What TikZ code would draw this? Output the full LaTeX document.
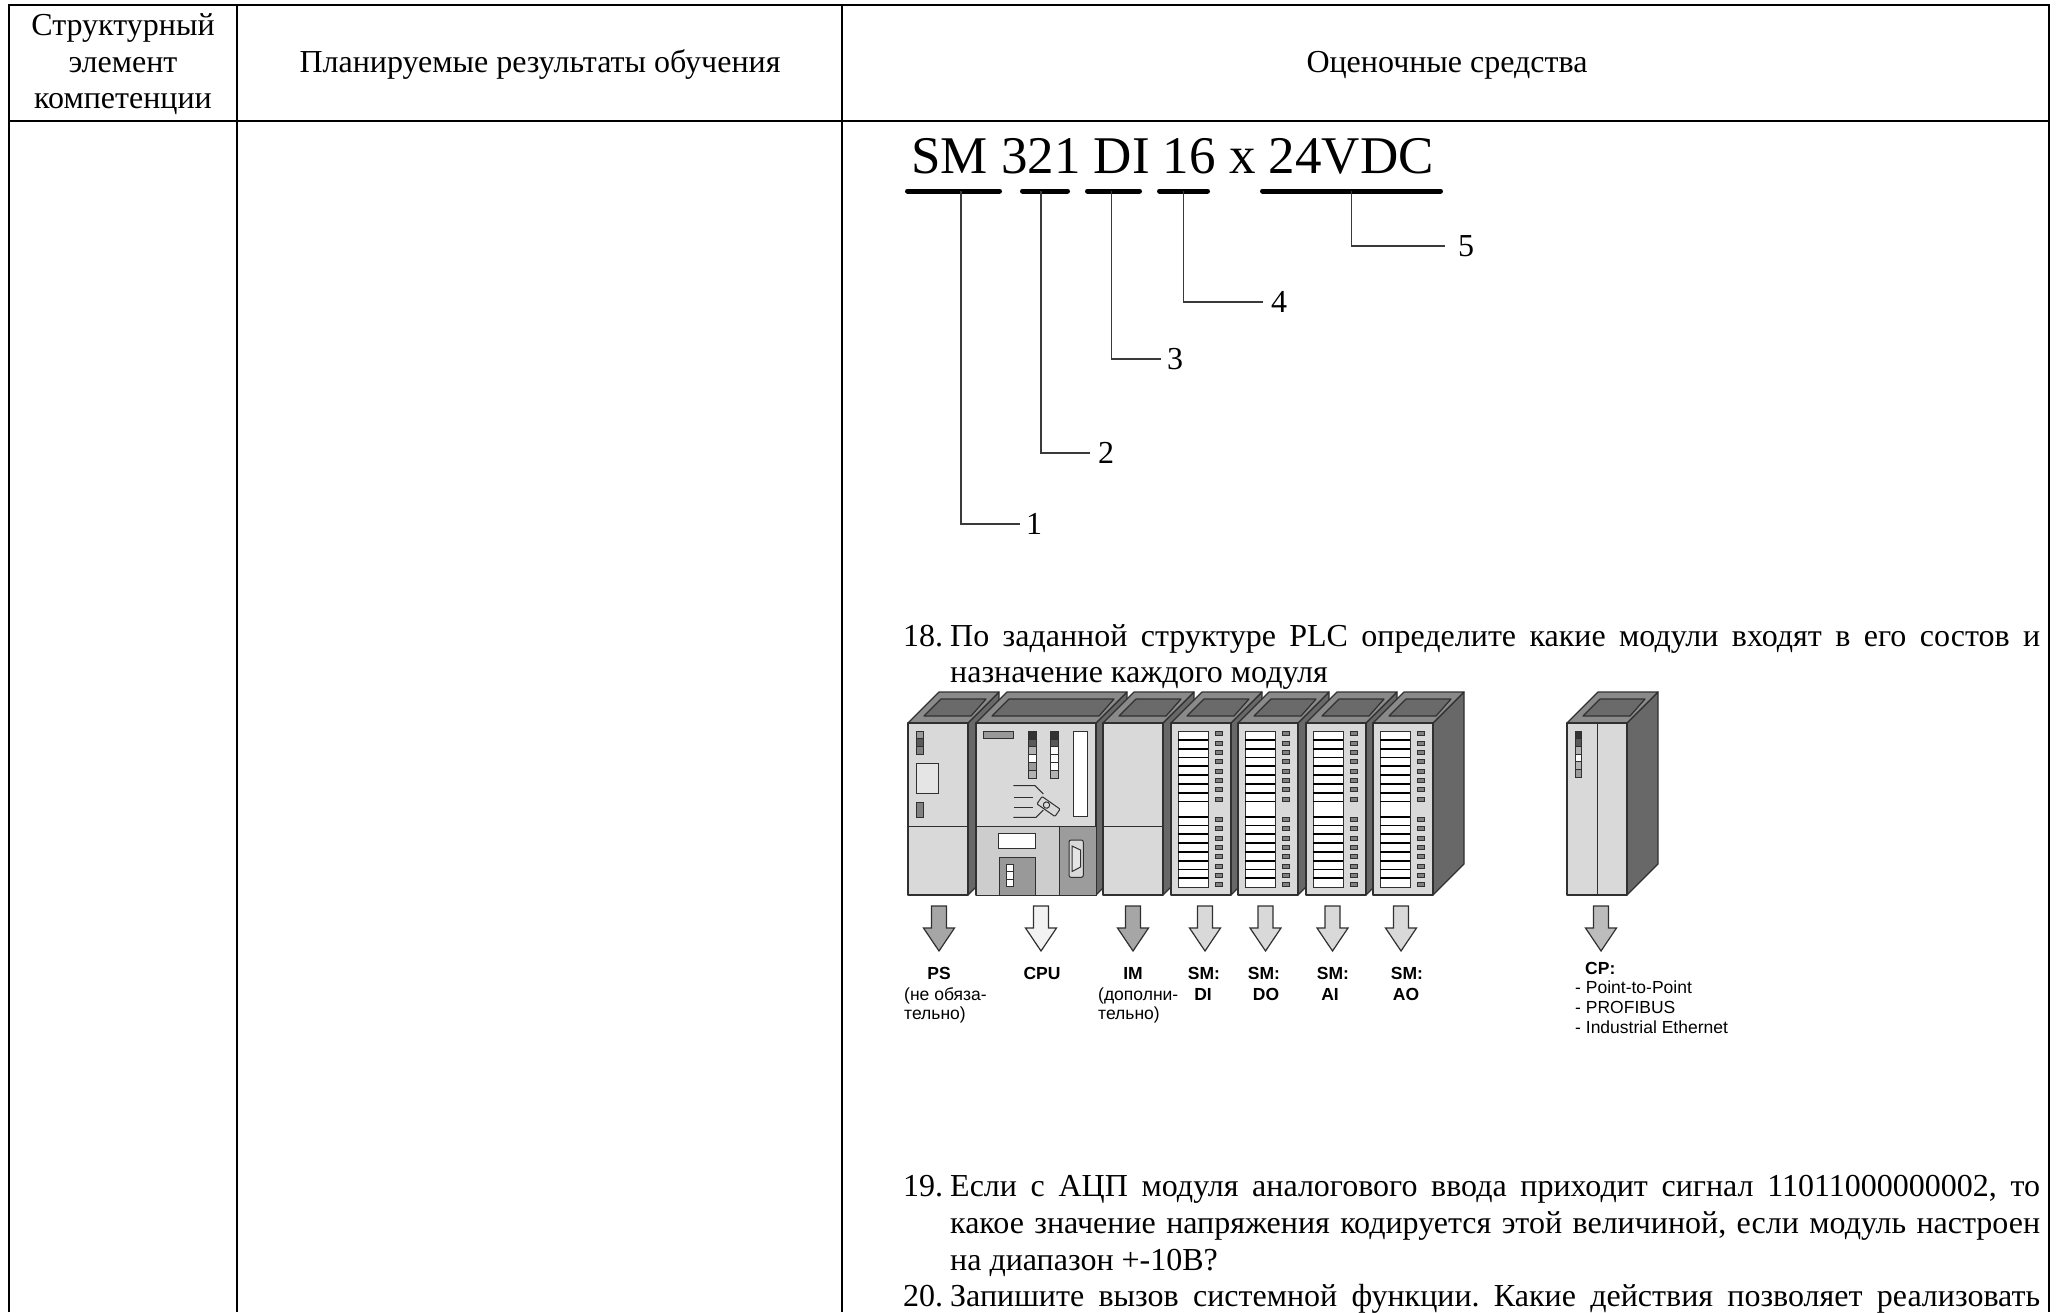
\documentclass[tikz,border=0pt]{standalone}
\usepackage{fontspec}
\setmainfont{Liberation Serif}
\newfontfamily\sansf{Liberation Sans}
\frenchspacing
\definecolor{frontgray}{HTML}{D9D9D9}
\definecolor{topgray}{HTML}{8A8A8A}
\definecolor{topdark}{HTML}{6A6A6A}
\definecolor{sidegray}{HTML}{686868}
\definecolor{edge}{HTML}{303030}
\definecolor{leadgray}{HTML}{3A3A3A}
\definecolor{cpulow}{HTML}{CDCDCD}
\definecolor{cpuright}{HTML}{9C9C9C}
\definecolor{psarrow}{HTML}{A6A6A6}
\definecolor{cpuarrow}{HTML}{F2F2F2}
\definecolor{smarrow}{HTML}{D9D9D9}
\definecolor{cparrow}{HTML}{BCBCBC}
\definecolor{g20}{gray}{0.2}
\definecolor{g35}{gray}{0.35}
\definecolor{g50}{gray}{0.5}
\definecolor{g60}{gray}{0.6}
\definecolor{g70}{gray}{0.7}
\definecolor{g90}{gray}{0.9}
\newcommand\plcmod[2]{%
 \filldraw[face, fill=sidegray] (#2,723) -- ({#2+31},692) -- ({#2+31},864) -- (#2,895) -- cycle;
 \filldraw[face, fill=topgray] (#1,723) -- ({#1+31},692) -- ({#2+31},692) -- (#2,723) -- cycle;
 \filldraw[face, fill=topdark] ({#1+16},716) -- ({#1+33},699) -- ({#2+18},699) -- ({#2+3},716) -- cycle;
 \filldraw[face, fill=frontgray] (#1,723) rectangle (#2,895);
}
\newcommand\smdetail[1]{%
 \pgfmathsetmacro\sxa{#1+7}\pgfmathsetmacro\sxe{#1+37}%
 \filldraw[fill=white, draw=edge, line width=1pt] (\sxa,731) rectangle (\sxe,887);
 \foreach \k in {1,...,7} {\draw[slotline] (\sxa,{731+\k*8.8}) -- (\sxe,{731+\k*8.8});}
 \draw[slotline] (\sxa,801.5) -- (\sxe,801.5);
 \draw[slotline] (\sxa,816.7) -- (\sxe,816.7);
 \foreach \k in {1,...,7} {\draw[slotline] (\sxa,{816.7+\k*8.8}) -- (\sxe,{816.7+\k*8.8});}
 \foreach \k in {0,...,7} {%
   \filldraw[led] ({#1+44},{731.7+\k*9.33}) rectangle ++(7,4);
   \filldraw[led] ({#1+44},{817.3+\k*9.33}) rectangle ++(7,4);}
}
\newcommand\blockarrow[2]{%
 \filldraw[arr, fill=#2] ({#1-7.5},906) -- ({#1+7.5},906) -- ({#1+7.5},928) -- ({#1+15.5},928) -- (#1,951) -- ({#1-15.5},928) -- ({#1-7.5},928) -- cycle;
}
\begin{document}
\begin{tikzpicture}[x=1pt,y=-1pt,
  tbl/.style={line width=2.8pt, draw=black},
  hdr/.style={font=\fontsize{32}{36.7}\selectfont, inner sep=0pt, anchor=base},
  body/.style={font=\fontsize{32}{36.7}\selectfont, inner sep=0pt, anchor=base west},
  num/.style={font=\fontsize{32}{36.7}\selectfont, inner sep=0pt, anchor=west},
  big/.style={font=\fontsize{53}{60}\selectfont, inner sep=0pt, anchor=base west},
  bar/.style={line width=5pt, line cap=round, draw=black},
  lead/.style={line width=1.5pt, draw=leadgray},
  face/.style={draw=edge, line width=1.2pt, line join=round},
  thinedge/.style={draw=edge, line width=1pt},
  slotline/.style={line width=1.8pt, draw=black},
  led/.style={fill=g50, draw=edge, line width=0.8pt},
  arr/.style={draw=edge, line width=1.2pt, line join=miter},
  lbl/.style={font=\sansf\fontsize{17.5}{20}\selectfont, inner sep=0pt, anchor=base},
  lblb/.style={lbl, font=\sansf\bfseries\fontsize{17.5}{20}\selectfont},
]
\useasboundingbox (0,0) rectangle (2060,1312);
\fill[white] (0,0) rectangle (2060,1312);

% table
\draw[tbl] (9,1312) -- (9,5) -- (2049,5) -- (2049,1312);
\draw[tbl] (9,121) -- (2049,121);
\draw[tbl] (237,5) -- (237,1312);
\draw[tbl] (842,5) -- (842,1312);

\node[hdr] (h1a) at (123,35) {Структурный};
\node[hdr] (h1b) at (123,72) {элемент};
\node[hdr] (h1c) at (123,108.5) {компетенции};
\node[hdr] (h2) at (540,72) {Планируемые результаты обучения};
\node[hdr] (h3) at (1447,72) {Оценочные средства};

% designation
\node[big] (code) at (911,173) {SM 321 DI 16 x 24VDC};
\draw[bar] (907.5,191) -- (999.5,191);
\draw[bar] (1022.5,191) -- (1067.5,191);
\draw[bar] (1087.5,191) -- (1139.5,191);
\draw[bar] (1159.5,191) -- (1207.5,191);
\draw[bar] (1262.5,191) -- (1440.5,191);

\coordinate (u1) at (961,191);
\coordinate (u2) at (1041,191);
\coordinate (u3) at (1111.5,191);
\coordinate (u4) at (1183.5,191);
\coordinate (u5) at (1351.5,191);
\node[num] (n1) at (1026,524) {1};
\node[num] (n2) at (1098,453) {2};
\node[num] (n3) at (1167,359) {3};
\node[num] (n4) at (1271,302) {4};
\node[num] (n5) at (1458,246) {5};
\draw[lead] (u1) |- ([xshift=-6pt]n1.west);
\draw[lead] (u2) |- ([xshift=-8pt]n2.west);
\draw[lead] (u3) |- ([xshift=-6pt]n3.west);
\draw[lead] (u4) |- ([xshift=-8pt]n4.west);
\draw[lead] (u5) |- ([xshift=-13pt]n5.west);

% question 18
\node[body] (q18n) at (903,646.7) {18.};
\node[body] (q18a) at (950,646.7) {\makebox[1090pt][s]{По заданной структуре PLC определите какие модули входят в его состов и}};
\node[body] (q18b) at (950,682.7) {назначение каждого модуля};

% PLC modules
\plcmod{908}{968}
\draw[thinedge] (908,826) -- (968,826);
\foreach \c [count=\i from 0] in {g60,g35,g50} {\filldraw[fill=\c, draw=edge, line width=0.8pt] (916,{731+\i*7.7}) rectangle ++(7.3,7.7);}
\filldraw[fill=g90, thinedge] (916,763) rectangle (938,793);
\filldraw[fill=g50, thinedge] (916,802) rectangle (923,817);

\plcmod{976}{1096}
\filldraw[fill=cpulow, thinedge] (976,826) rectangle (1059,895);
\filldraw[fill=cpuright, thinedge] (1059,826) rectangle (1096,895);
\filldraw[fill=g60, thinedge] (983,731) rectangle (1013,738.3);
\foreach \c [count=\i from 0] in {g20,g35,g70,white,g60,g70} {\filldraw[fill=\c, draw=edge, line width=0.8pt] (1028.3,{731+\i*7.9}) rectangle ++(7.7,7.9);}
\foreach \c [count=\i from 0] in {g20,g35,white,white,white,g70} {\filldraw[fill=\c, draw=edge, line width=0.8pt] (1050.7,{731+\i*7.9}) rectangle ++(7.7,7.9);}
\filldraw[fill=white, thinedge] (1073.3,731) rectangle (1087.7,816.7);
\draw[thinedge] (1013.3,785.7) -- (1035,785.7) -- (1043.3,794);
\draw[thinedge] (1014.3,797.3) -- (1033.3,797.3);
\draw[thinedge] (1014.3,807.3) -- (1032.7,807.3);
\draw[thinedge] (1013.3,817.3) -- (1036,817.3) -- (1043.3,810);
\begin{scope}[rotate around={-35:(1048.5,806.5)}]
\filldraw[fill=frontgray, thinedge, rounded corners=1pt] (1037.5,802) rectangle (1059.5,811);
\draw[thinedge] (1046,806.5) circle (3.2);
\end{scope}
\filldraw[fill=white, thinedge] (998.3,833.3) rectangle (1035,848.3);
\filldraw[fill=g60, thinedge] (999,857.3) rectangle (1035,895);
\foreach \i in {0,1,2} {\filldraw[fill=white, draw=edge, line width=0.8pt] (1006,{864+\i*7.6}) rectangle ++(7.3,7.6);}
\filldraw[fill=frontgray, thinedge, rounded corners=2pt] (1069,840) rectangle (1083.3,877.3);
\filldraw[fill=g90, thinedge] (1072,846) -- (1080.5,850) -- (1080.5,867) -- (1072,871.5) -- cycle;

\plcmod{1103}{1163}
\draw[thinedge] (1103,826) -- (1163,826);

\plcmod{1171}{1231}
\smdetail{1171}
\plcmod{1238}{1298}
\smdetail{1238}
\plcmod{1306}{1366}
\smdetail{1306}
\plcmod{1373}{1433}
\smdetail{1373}

\plcmod{1567}{1627}
\draw[thinedge] (1597,723) -- (1597,895);
\foreach \c [count=\i from 0] in {g20,g35,g70,white,g70,g60} {\filldraw[fill=\c, draw=edge, line width=0.8pt] (1575,{731+\i*7.7}) rectangle ++(6.7,7.7);}

% arrows
\blockarrow{939}{psarrow}
\blockarrow{1041}{cpuarrow}
\blockarrow{1133}{psarrow}
\blockarrow{1205}{smarrow}
\blockarrow{1265.5}{smarrow}
\blockarrow{1332.5}{smarrow}
\blockarrow{1401}{smarrow}
\blockarrow{1601}{cparrow}

% labels
\node[lblb] (psl) at (939,979) {PS};
\node[lbl, anchor=base west] (psn1) at (904,1000) {(не обяза-};
\node[lbl, anchor=base west] (psn2) at (904,1019) {тельно)};
\node[lblb] (cpul) at (1042,979) {CPU};
\node[lblb] (iml) at (1133,979) {IM};
\node[lbl, anchor=base west] (imn1) at (1098,1000) {(дополни-};
\node[lbl, anchor=base west] (imn2) at (1098,1019) {тельно)};
\node[lblb] (sma) at (1204,979) {SM:};
\node[lblb] (smab) at (1203,1000) {DI};
\node[lblb] (smb) at (1264,979) {SM:};
\node[lblb] (smbb) at (1266,1000) {DO};
\node[lblb] (smc) at (1333,979) {SM:};
\node[lblb] (smcb) at (1330,1000) {AI};
\node[lblb] (smd) at (1407,979) {SM:};
\node[lblb] (smdb) at (1406,1000) {AO};
\node[lblb, anchor=base west] (cpl) at (1585,974) {CP:};
\node[lbl, anchor=base west] (cp1) at (1575,993.5) {- Point-to-Point};
\node[lbl, anchor=base west] (cp2) at (1575,1013) {- PROFIBUS};
\node[lbl, anchor=base west] (cp3) at (1575,1033.5) {- Industrial Ethernet};

% questions 19, 20
\node[body] (q19n) at (903,1196.7) {19.};
\node[body] (q19a) at (950,1196.7) {\makebox[1090pt][s]{Если с АЦП модуля аналогового ввода приходит сигнал 11011000000002, то}};
\node[body] (q19b) at (950,1233.3) {\makebox[1090pt][s]{какое значение напряжения кодируется этой величиной, если модуль настроен}};
\node[body] (q19c) at (950,1270) {на диапазон +-10В?};
\node[body] (q20n) at (903,1306.7) {20.};
\node[body] (q20a) at (950,1306.7) {\makebox[1090pt][s]{Запишите вызов системной функции. Какие действия позволяет реализовать}};
\end{tikzpicture}
\end{document}
